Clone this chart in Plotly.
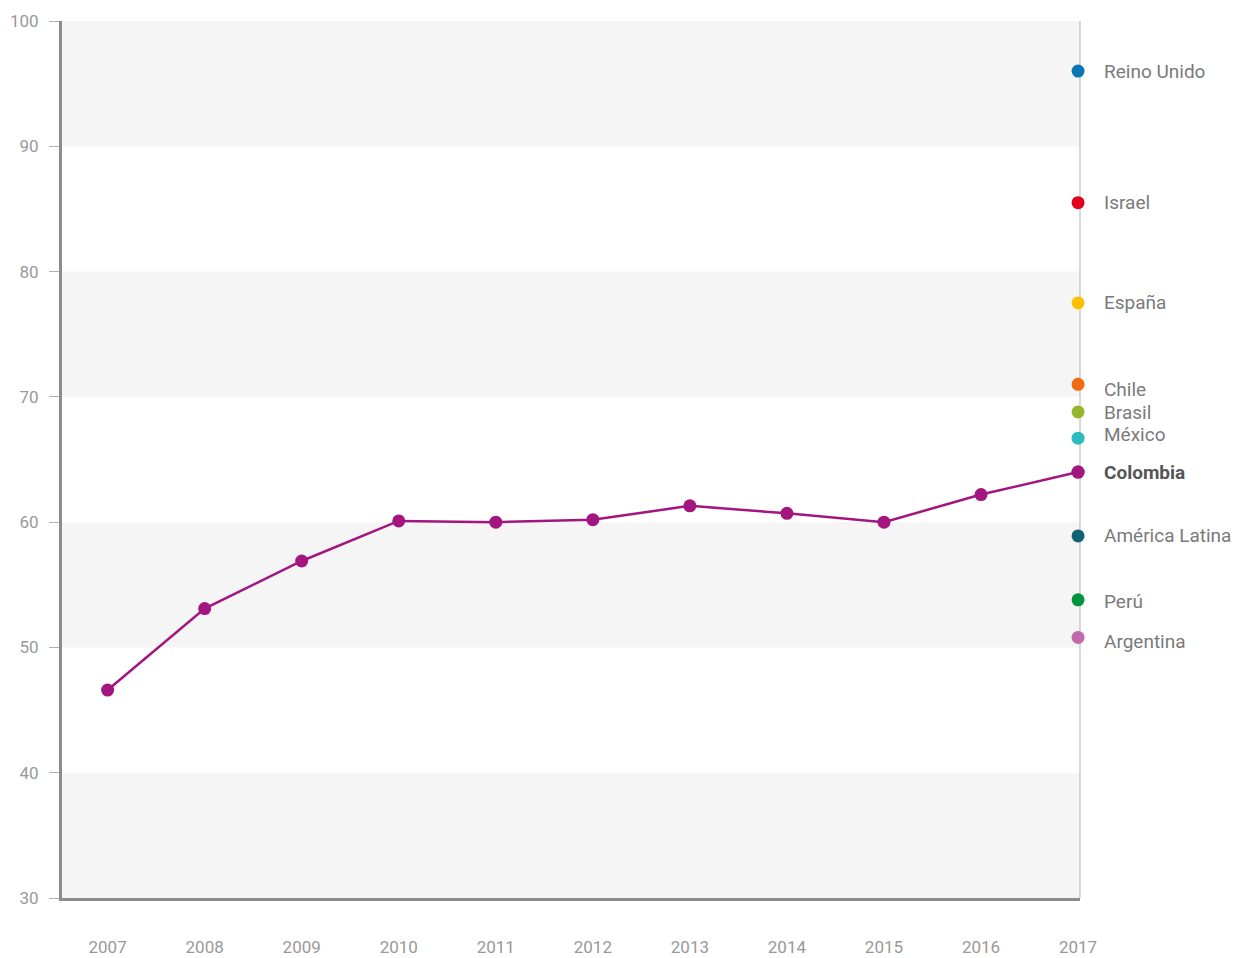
import plotly.graph_objects as go

# Colombia series, 2007-2017
years = [2007, 2008, 2009, 2010, 2011, 2012, 2013, 2014, 2015, 2016, 2017]
colombia = [46.6, 53.1, 56.9, 60.1, 60.0, 60.2, 61.3, 60.7, 60.0, 62.2, 64.0]

# 2017 comparison values
countries = ["Reino Unido", "Israel", "España", "Chile", "Brasil", "México",
             "Colombia", "América Latina", "Perú", "Argentina"]
country_values = [96.0, 85.5, 77.5, 71.0, 68.8, 66.7, 64.0, 58.9, 53.8, 50.8]
country_colors = ["#0a77b4", "#e2001a", "#fcc000", "#f26b0f", "#95b52b", "#2bbcbd",
                  "#a3157f", "#0e6374", "#009440", "#c06aaa"]
label_shift = [0, 0, 0, -5, -1, 4, 0, 0, -2, -4]

y_ticks = [30, 40, 50, 60, 70, 80, 90, 100]
LINE = "#a3157f"

fig = go.Figure()

fig.add_trace(go.Scatter(
    x=years, y=colombia, mode="lines+markers",
    line=dict(color=LINE, width=2.5),
    marker=dict(color=LINE, size=13),
    cliponaxis=False, showlegend=False, hoverinfo="x+y",
))

fig.add_trace(go.Scatter(
    x=[years[-1]] * len(countries), y=country_values, mode="markers",
    marker=dict(color=country_colors, size=13),
    text=countries, cliponaxis=False, showlegend=False, hoverinfo="text+y",
))

# alternating horizontal bands
shapes = []
for lo in y_ticks[:-1]:
    if (lo // 10) % 2 == 1:
        shapes.append(dict(type="rect", xref="paper", yref="y", x0=0, x1=1,
                           y0=lo, y1=lo + 10, fillcolor="#f5f5f5",
                           line=dict(width=0), layer="below"))
shapes.append(dict(type="line", xref="paper", yref="paper", x0=1, x1=1, y0=0, y1=1,
                   line=dict(color="#b3b3b3", width=1), layer="below"))

annotations = []
for name, val, dy in zip(countries, country_values, label_shift):
    bold = name == "Colombia"
    annotations.append(dict(
        x=years[-1], y=val, xref="x", yref="y", text=f"<b>{name}</b>" if bold else name,
        showarrow=False, xanchor="left", yanchor="middle", xshift=24, yshift=dy,
        font=dict(family="Roboto", size=19, color="#555555" if bold else "#7a7a7a"),
    ))

fig.update_layout(
    width=1240, height=958,
    margin=dict(l=62, r=160, t=21, b=60),
    paper_bgcolor="white", plot_bgcolor="white",
    font=dict(family="Roboto", color="#999999"),
    shapes=shapes, annotations=annotations,
    xaxis=dict(
        range=[2006.53, 2017.02], tickmode="array", tickvals=years,
        ticktext=[str(y) for y in years], showgrid=False, zeroline=False,
        showline=True, linecolor="#8c8c8c", linewidth=3, ticks="",
        tickfont=dict(size=17, color="#999999"), ticklabelstandoff=32,
        automargin=False,
    ),
    yaxis=dict(
        range=[30, 100], tickmode="array", tickvals=y_ticks, showgrid=False,
        zeroline=False, showline=True, linecolor="#8c8c8c", linewidth=3,
        ticks="outside", ticklen=10, tickcolor="#b0b0b0", tickwidth=1,
        tickfont=dict(size=17, color="#999999"), ticklabelstandoff=7,
        automargin=False,
    ),
)

fig.write_html("out.html")
